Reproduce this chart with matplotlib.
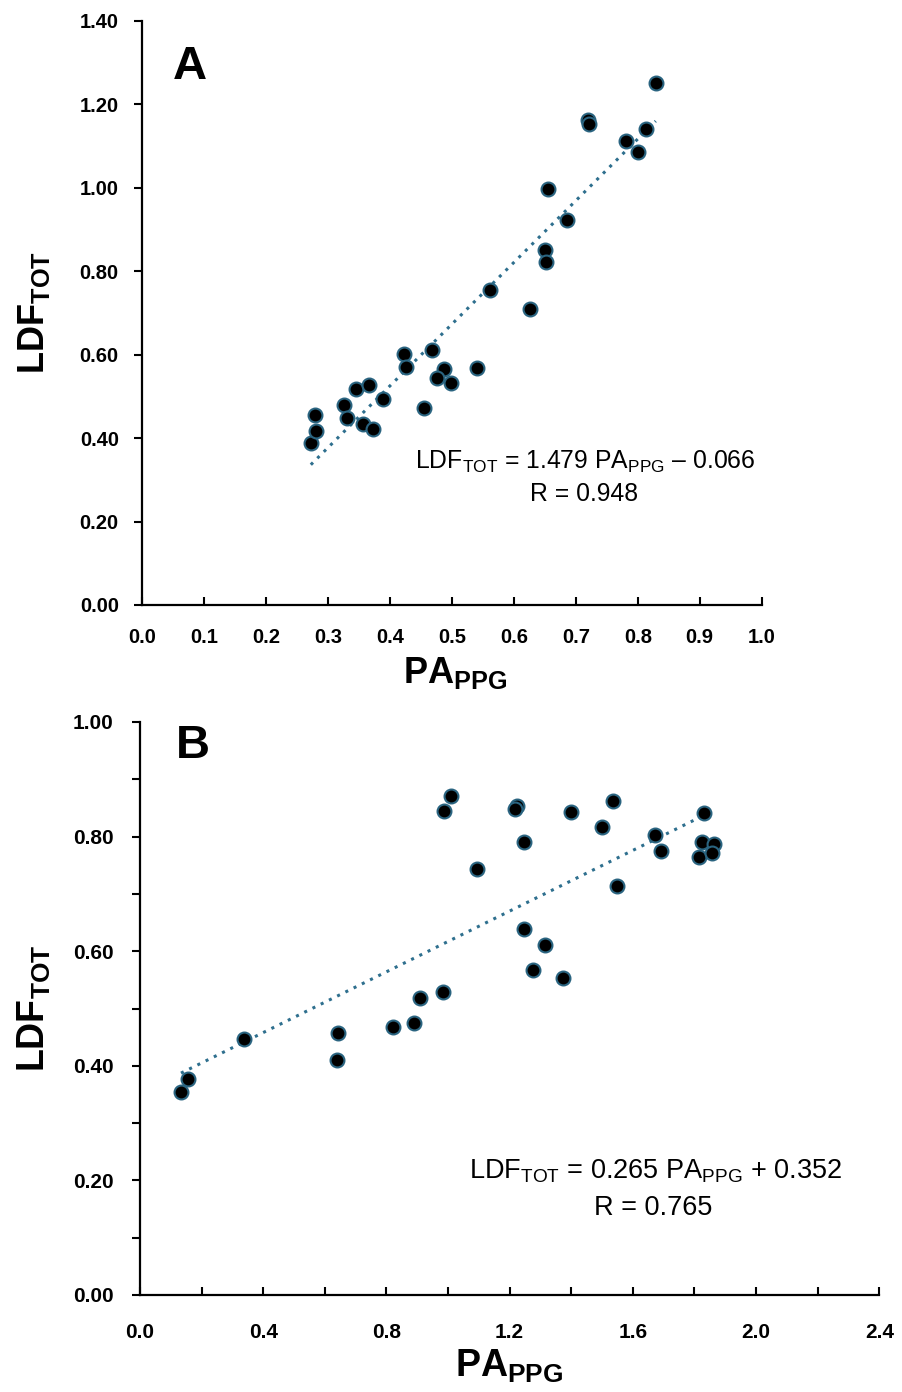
import matplotlib
matplotlib.use("Agg")
import matplotlib.pyplot as plt
from matplotlib import font_manager as fm
from matplotlib.ticker import MultipleLocator, FormatStrFormatter
import numpy as np

# ---------------- data ----------------
# Panel A
a_x = [0.272, 0.281, 0.279, 0.326, 0.331, 0.345, 0.366, 0.356, 0.372, 0.389,
       0.423, 0.425, 0.468, 0.454, 0.487, 0.475, 0.499, 0.541, 0.561, 0.626,
       0.650, 0.652, 0.655, 0.686, 0.720, 0.722, 0.781, 0.801, 0.813, 0.829]
a_y = [0.389, 0.417, 0.455, 0.480, 0.448, 0.517, 0.528, 0.433, 0.423, 0.494,
       0.602, 0.571, 0.611, 0.473, 0.566, 0.543, 0.532, 0.567, 0.755, 0.710,
       0.851, 0.822, 0.998, 0.923, 1.163, 1.154, 1.113, 1.087, 1.141, 1.252]
a_slope, a_icpt, a_r = 1.479, -0.066, 0.948

# Panel B
b_x = [0.133, 0.155, 0.339, 0.644, 0.641, 0.821, 0.890, 0.909, 0.984, 1.010,
       0.988, 1.224, 1.218, 1.399, 1.247, 1.095, 1.537, 1.501, 1.831, 1.673,
       1.691, 1.826, 1.864, 1.815, 1.857, 1.548, 1.247, 1.315, 1.275, 1.372]
b_y = [0.354, 0.377, 0.446, 0.458, 0.410, 0.468, 0.474, 0.518, 0.529, 0.870,
       0.845, 0.853, 0.848, 0.843, 0.791, 0.743, 0.862, 0.817, 0.841, 0.803,
       0.774, 0.790, 0.787, 0.765, 0.771, 0.713, 0.638, 0.611, 0.567, 0.554]
b_slope, b_icpt, b_r = 0.265, 0.352, 0.765

# ---------------- fonts ----------------
names = {f.name for f in fm.fontManager.ttflist}
bold_font = "Liberation Sans Narrow" if "Liberation Sans Narrow" in names else "Liberation Sans"
reg_font = "Liberation Sans"

plt.rcParams["mathtext.fontset"] = "custom"
plt.rcParams["mathtext.rm"] = reg_font
plt.rcParams["mathtext.bf"] = bold_font + ":bold"
plt.rcParams["mathtext.it"] = reg_font + ":italic"

W, H = 903, 1392
fig = plt.figure(figsize=(W / 100, H / 100), dpi=100)

marker_face = "black"
marker_edge = "#2a6480"
line_col = "#2e6f8e"


def style_axes(ax, lsize, xpad, ypad):
    for s in ("top", "right"):
        ax.spines[s].set_visible(False)
    for s in ("left", "bottom"):
        ax.spines[s].set_linewidth(1.6)
        ax.spines[s].set_color("black")
    ax.tick_params(axis="x", which="both", direction="in", length=6, width=1.5,
                   pad=xpad, labelsize=lsize)
    ax.tick_params(axis="y", which="both", direction="out", length=6, width=1.5,
                   pad=ypad, labelsize=lsize)
    for lab in ax.get_xticklabels() + ax.get_yticklabels():
        lab.set_fontweight("bold")
        lab.set_fontfamily(bold_font)


def axes_px(left, right, top, bottom):
    return fig.add_axes([left / W, 1 - bottom / H, (right - left) / W, (bottom - top) / H])


# ---------------- Panel A ----------------
axA = axes_px(142.4, 761.6, 21, 605)
axA.set_xlim(0, 1.0)
axA.set_ylim(0, 1.40)
axA.xaxis.set_major_locator(MultipleLocator(0.1))
axA.yaxis.set_major_locator(MultipleLocator(0.2))
axA.xaxis.set_major_formatter(FormatStrFormatter("%.1f"))
axA.yaxis.set_major_formatter(FormatStrFormatter("%.2f"))
xa = np.array([min(a_x), max(a_x)])
axA.plot(xa, a_slope * xa + a_icpt, linestyle=(0, (1, 2)), color=line_col, lw=2.2, zorder=2)
axA.scatter(a_x, a_y, s=100, c=marker_face, edgecolors=marker_edge, linewidths=1.5, zorder=3)
style_axes(axA, 14.5, 16.5, 11)
axA.set_xlabel(r"$\mathbf{PA}_{\mathbf{PPG}}$", fontsize=26)
axA.xaxis.label.set_va("center")
axA.xaxis.set_label_coords(0.505, -0.117)
axA.set_ylabel(r"$\mathbf{LDF}_{\mathbf{TOT}}$", fontsize=26)
axA.yaxis.label.set_va("center")
axA.yaxis.set_label_coords(-0.175, 0.5)
axA.text(0.076, 0.922, "A", transform=axA.transAxes, fontsize=34, fontweight="bold",
         family="Liberation Sans", ha="center", va="center")
axA.text(0.715, 0.245, r"LDF$_{\mathrm{TOT}}$ = %.3f PA$_{\mathrm{PPG}}$ – %.3f" % (a_slope, -a_icpt),
         transform=axA.transAxes, fontsize=17.8, family=reg_font, ha="center", va="center")
axA.text(0.713, 0.190, "R = %.3f" % a_r, transform=axA.transAxes, fontsize=17.8,
         family=reg_font, ha="center", va="center")

# ---------------- Panel B ----------------
axB = axes_px(140, 879.3, 722, 1295)
axB.set_xlim(0, 2.4)
axB.set_ylim(0, 1.00)
axB.xaxis.set_major_locator(MultipleLocator(0.4))
axB.xaxis.set_minor_locator(MultipleLocator(0.2))
axB.yaxis.set_major_locator(MultipleLocator(0.2))
axB.yaxis.set_minor_locator(MultipleLocator(0.1))
axB.xaxis.set_major_formatter(FormatStrFormatter("%.1f"))
axB.yaxis.set_major_formatter(FormatStrFormatter("%.2f"))
xb = np.array([min(b_x), max(b_x)])
axB.plot(xb, b_slope * xb + b_icpt, linestyle=(0, (1, 2)), color=line_col, lw=2.2, zorder=2)
axB.scatter(b_x, b_y, s=100, c=marker_face, edgecolors=marker_edge, linewidths=1.5, zorder=3)
style_axes(axB, 15, 20, 13)
axB.set_xlabel(r"$\mathbf{PA}_{\mathbf{PPG}}$", fontsize=27)
axB.xaxis.label.set_va("center")
axB.xaxis.set_label_coords(0.500, -0.124)
axB.set_ylabel(r"$\mathbf{LDF}_{\mathbf{TOT}}$", fontsize=27)
axB.yaxis.label.set_va("center")
axB.yaxis.set_label_coords(-0.143, 0.5)
axB.text(0.071, 0.958, "B", transform=axB.transAxes, fontsize=34, fontweight="bold",
         family="Liberation Sans", ha="center", va="center")
axB.text(0.697, 0.216, r"LDF$_{\mathrm{TOT}}$ = %.3f PA$_{\mathrm{PPG}}$ + %.3f" % (b_slope, b_icpt),
         transform=axB.transAxes, fontsize=19.5, family=reg_font, ha="center", va="center")
axB.text(0.694, 0.152, "R = %.3f" % b_r, transform=axB.transAxes, fontsize=19.5,
         family=reg_font, ha="center", va="center")

fig.savefig("out.png", dpi=100)
